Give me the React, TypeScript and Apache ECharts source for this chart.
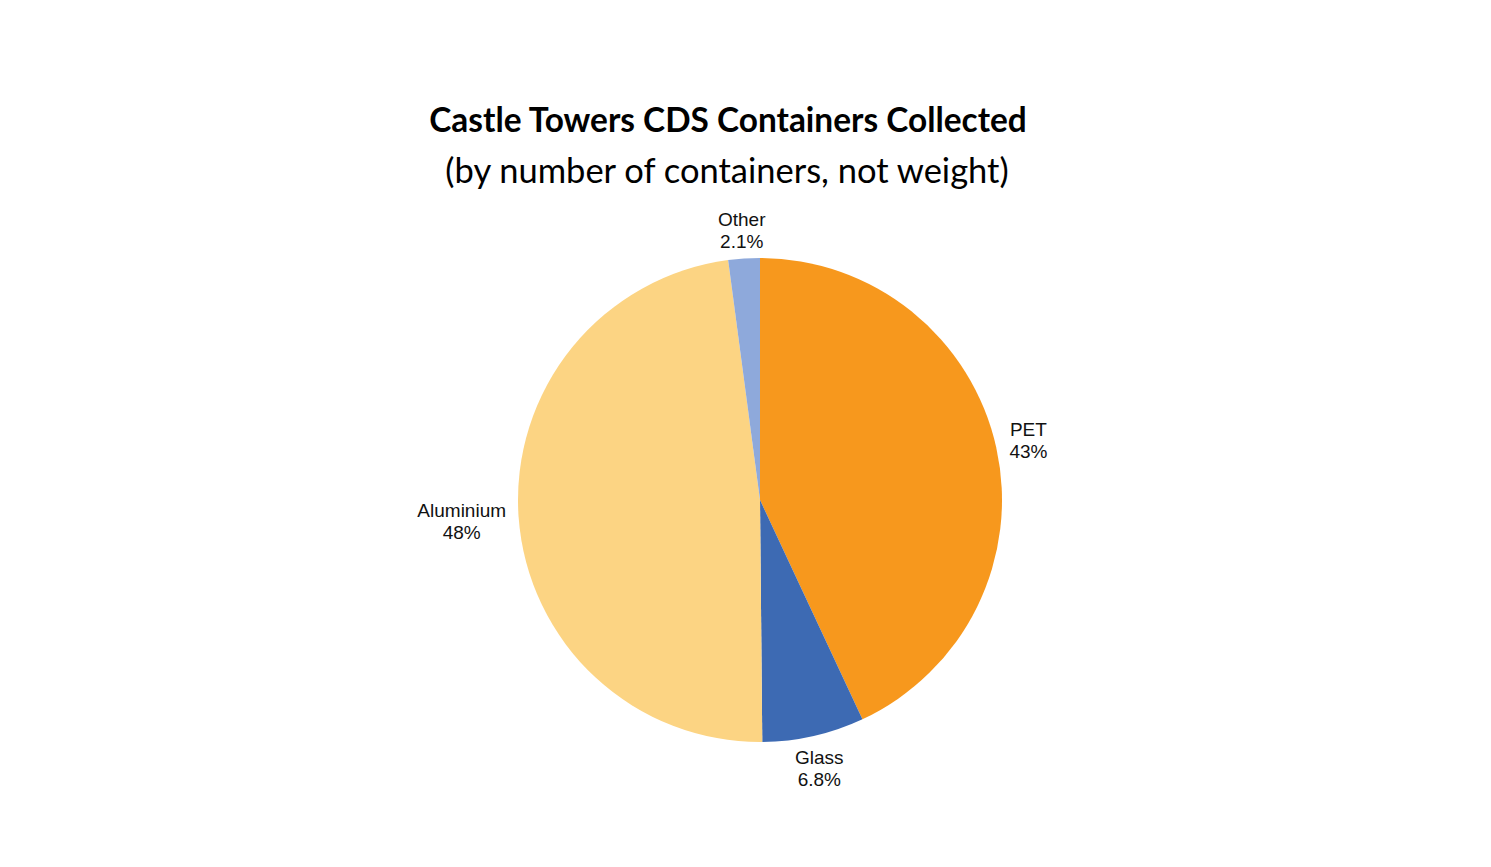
import React, { useEffect, useRef } from "react";
import * as echarts from "echarts";

const categories = ["PET", "Glass", "Aluminium", "Other"];
const shares = [43, 6.8, 48, 2.1];
const colors = ["#F7981D", "#3D6AB3", "#FCD483", "#8EA9DB"];
const titleText = "Castle Towers CDS Containers Collected";
const subtitleText = "(by number of containers, not weight)";

export default function App() {
  const ref = useRef<HTMLDivElement>(null);
  useEffect(() => {
    if (!ref.current) return;
    const chart = echarts.init(ref.current, undefined, { renderer: "svg" });
    const labelOffsets: Record<string, number[]> = {
      PET: [-2, 1],
      Glass: [-2, -2],
      Aluminium: [-22, 2],
      Other: [0, 7],
    };
    const data = categories.map((c, i) => ({
      name: c,
      value: shares[i],
      itemStyle: { color: colors[i] },
    }));
    const labelData = categories.map((c, i) => ({
      name: c,
      value: shares[i],
      label: { offset: labelOffsets[c] },
    }));
    chart.setOption({
      animation: false,
      backgroundColor: "#ffffff",
      title: [
        {
          text: titleText,
          left: 723,
          top: 97,
          textAlign: "center",
          textStyle: { fontFamily: "Lato", fontWeight: "bold", fontSize: 33.4, color: "#000" },
        },
        {
          text: subtitleText,
          left: 722,
          top: 147,
          textAlign: "center",
          textStyle: { fontFamily: "Lato", fontWeight: "normal", fontSize: 34.5, color: "#000" },
        },
      ],
      series: [
        {
          type: "pie",
          center: [760, 500],
          radius: [0, 242],
          startAngle: 90,
          clockwise: true,
          silent: true,
          label: { show: false },
          labelLine: { show: false },
          itemStyle: { borderWidth: 0 },
          data,
        },
        {
          type: "pie",
          center: [760, 500],
          radius: [250, 298],
          startAngle: 90,
          clockwise: true,
          silent: true,
          itemStyle: { color: "rgba(0,0,0,0)" },
          label: {
            show: true,
            position: "inside",
            rotate: 0,
            fontFamily: "Liberation Sans",
            fontSize: 19,
            lineHeight: 22,
            color: "#111",
            formatter: (p: any) => `${p.name}\n${p.value}%`,
          },
          labelLine: { show: false },
          data: labelData,
        },
      ],
    });
    return () => chart.dispose();
  }, []);
  return (
    <div
      ref={ref}
      style={{ position: "absolute", left: 0, top: 0, width: 1491, height: 867 }}
    />
  );
}
